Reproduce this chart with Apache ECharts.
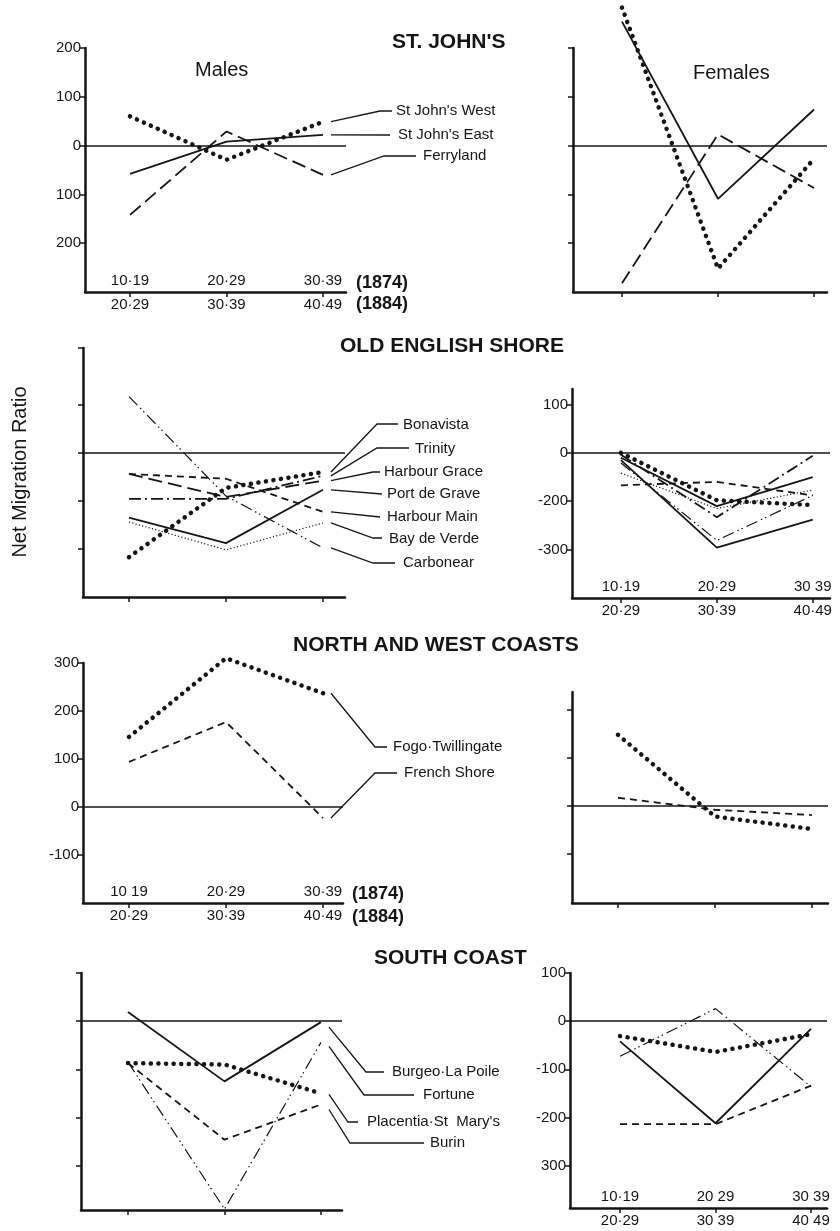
<!DOCTYPE html>
<html><head><meta charset="utf-8">
<script src="https://cdn.jsdelivr.net/npm/echarts@6/dist/echarts.min.js"></script>
<style>html,body{margin:0;padding:0;background:#fff}#c{width:840px;height:1231px}</style>
</head><body><div id="c"></div>
<script>
// ---------------- DATA ----------------
const ageTop1 = ['10·19', '20·29', '30·39'];
const ageBottom1 = ['20·29', '30·39', '40·49'];
const ageTop4 = ['10·19', '20·29', '30 39'];
const ageBottom4 = ['20·29', '30·39', '40·49'];
const ageTop5 = ['10 19', '20·29', '30·39'];
const ageBottom5 = ['20·29', '30·39', '40·49'];
const ageTop8 = ['10·19', '20 29', '30 39'];
const ageBottom8 = ['20·29', '30 39', '40 49'];

// y tick values / labels (as printed)
const ticksStJ = [200, 100, 0, -100, -200];
const tickLabelsStJ = ['200', '100', '0', '100', '200'];
const ticksOESMale = [218, 100, 0, -100, -200];
const ticksOESFemale = [100, 0, -100, -200];
const tickLabelsOESFemale = ['100', '0', '-200', '-300'];
const ticksNW = [300, 200, 100, 0, -100];
const tickLabelsNW = ['300', '200', '100', '0', '-100'];
const ticksNWFemale = [200, 100, 0, -100];
const ticksSC = [100, 0, -100, -200, -300];
const tickLabelsSC = ['100', '0', '-100', '-200', '300'];

// St John's
const stjNames = ["St John's West", "St John's East", 'Ferryland'];
const stjMaleWest = [60, -29, 49];
const stjMaleEast = [-58, 8, 22];
const stjMaleFerryland = [-142, 29, -60];
const stjFemaleWest = [283, -252, -27];
const stjFemaleEast = [254, -109, 74];
const stjFemaleFerryland = [-282, 23, -87];

// Old English Shore
const oesNames = ['Bonavista', 'Trinity', 'Harbour Grace', 'Port de Grave', 'Harbour Main', 'Bay de Verde', 'Carbonear'];
const oesMaleBonavista = [-217, -73, -40];
const oesMaleTrinity = [-96, -96, -48];
const oesMaleHarbourGrace = [-44, -92, -58];
const oesMalePortDeGrave = [-135, -188, -77];
const oesMaleHarbourMain = [-44, -54, -123];
const oesMaleBayDeVerde = [-144, -202, -146];
const oesMaleCarbonear = [117, -90, -198];
const oesFemaleBonavista = [0, -98, -108];
const oesFemaleTrinity = [-4, -133, -6];
const oesFemaleHarbourGrace = [-10, -110, -50];
const oesFemalePortDeGrave = [-15, -196, -138];
const oesFemaleHarbourMain = [-67, -60, -88];
const oesFemaleBayDeVerde = [-42, -115, -77];
const oesFemaleCarbonear = [-21, -181, -88];

// North and West Coasts
const nwNames = ['Fogo·Twillingate', 'French Shore'];
const nwMaleFogo = [146, 310, 237];
const nwMaleFrench = [94, 177, -23];
const nwFemaleFogo = [148, -22, -48];
const nwFemaleFrench = [17, -8, -19];

// South Coast
const scNames = ['Burgeo·La Poile', 'Fortune', "Placentia·St  Mary's", 'Burin'];
const scMaleBurgeo = [19, -125, -2];
const scMaleFortune = [-85, -390, -44];
const scMalePlacentia = [-87, -90, -150];
const scMaleBurin = [-87, -246, -173];
const scFemaleBurgeo = [-42, -212, -16];
const scFemaleFortune = [-73, 26, -136];
const scFemalePlacentia = [-31, -64, -27];
const scFemaleBurin = [-214, -214, -134];

// ---------------- STYLES / LAYOUT ----------------
const INK = '#151515';
const FONT = 'Liberation Sans, Arial, sans-serif';
const STY = {
  heavyDot: { width: 4.5, type: [0.1, 7.5], cap: 'round' },
  fineDot: { width: 1.2, type: [1.2, 2.2] },
  solid: { width: 1.8, type: 'solid' },
  dashed: { width: 1.8, type: [7, 5] },
  longDash: { width: 1.8, type: [14, 6] },
  dashDot: { width: 1.8, type: [12, 4, 2, 4] },
  dashDotDot: { width: 1.2, type: [12, 4, 1.5, 3, 1.5, 4] }
};

const panels = [
  { grid: { left: 85, top: 48, width: 261, height: 244 }, x: [-0.466, 2.238], y: [-300, 200],
    yTicks: ticksStJ, yLabels: tickLabelsStJ, xTop: ageTop1, xBottom: ageBottom1,
    series: [[stjNames[0], stjMaleWest, 'heavyDot'], [stjNames[1], stjMaleEast, 'solid'], [stjNames[2], stjMaleFerryland, 'longDash']],
    leaders: [
      { pts: [[380, 111], [392, 111]], tx: 396, ty: 111 },
      { pts: [[390, 135]], tx: 398, ty: 135 },
      { pts: [[384, 156], [416, 156]], tx: 423, ty: 156 }
    ] },
  { grid: { left: 573, top: 48, width: 254, height: 244 }, x: [-0.51, 2.135], y: [-300, 200],
    yTicks: ticksStJ, yLabels: null,
    series: [[stjNames[0], stjFemaleWest, 'heavyDot'], [stjNames[1], stjFemaleEast, 'solid'], [stjNames[2], stjFemaleFerryland, 'longDash']] },
  { grid: { left: 83, top: 348, width: 262, height: 249 }, x: [-0.474, 2.227], y: [-300, 218],
    yTicks: ticksOESMale, yLabels: null,
    series: [[oesNames[0], oesMaleBonavista, 'heavyDot'], [oesNames[1], oesMaleTrinity, 'dashDot'], [oesNames[2], oesMaleHarbourGrace, 'longDash'],
             [oesNames[3], oesMalePortDeGrave, 'solid'], [oesNames[4], oesMaleHarbourMain, 'dashed'], [oesNames[5], oesMaleBayDeVerde, 'fineDot'],
             [oesNames[6], oesMaleCarbonear, 'dashDotDot']],
    leaders: [
      { pts: [[377, 424], [398, 424]], tx: 403, ty: 425 },
      { pts: [[377, 448], [409, 448]], tx: 415, ty: 449 },
      { pts: [[373, 472], [380, 472]], tx: 384, ty: 472 },
      { pts: [[382, 494]], tx: 387, ty: 494 },
      { pts: [[380, 517]], tx: 387, ty: 517 },
      { pts: [[373, 538], [382, 538]], tx: 389, ty: 539 },
      { pts: [[373, 563], [395, 563]], tx: 403, ty: 563 }
    ] },
  { grid: { left: 572, top: 389, width: 258, height: 209 }, x: [-0.51, 2.18], y: [-300, 132],
    yTicks: ticksOESFemale, yLabels: tickLabelsOESFemale, xTop: ageTop4, xBottom: ageBottom4,
    series: [[oesNames[0], oesFemaleBonavista, 'heavyDot'], [oesNames[1], oesFemaleTrinity, 'dashDot'], [oesNames[2], oesFemaleHarbourGrace, 'solid'],
             [oesNames[3], oesFemalePortDeGrave, 'solid'], [oesNames[4], oesFemaleHarbourMain, 'dashed'], [oesNames[5], oesFemaleBayDeVerde, 'fineDot'],
             [oesNames[6], oesFemaleCarbonear, 'dashDotDot']] },
  { grid: { left: 83, top: 663, width: 260, height: 240 }, x: [-0.474, 2.206], y: [-200, 300],
    yTicks: ticksNW, yLabels: tickLabelsNW, xTop: ageTop5, xBottom: ageBottom5,
    series: [[nwNames[0], nwMaleFogo, 'heavyDot'], [nwNames[1], nwMaleFrench, 'dashed']],
    leaders: [
      { pts: [[375, 747], [387, 747]], tx: 393, ty: 747 },
      { pts: [[375, 773], [397, 773]], tx: 404, ty: 773 }
    ] },
  { grid: { left: 572, top: 692, width: 256, height: 211 }, x: [-0.474, 2.165], y: [-202, 237],
    yTicks: ticksNWFemale, yLabels: null,
    series: [[nwNames[0], nwFemaleFogo, 'heavyDot'], [nwNames[1], nwFemaleFrench, 'dashed']] },
  { grid: { left: 81, top: 973, width: 261, height: 237 }, x: [-0.487, 2.218], y: [-392, 100],
    yTicks: ticksSC, yLabels: null,
    series: [[scNames[0], scMaleBurgeo, 'solid'], [scNames[1], scMaleFortune, 'dashDotDot'], [scNames[2], scMalePlacentia, 'heavyDot'], [scNames[3], scMaleBurin, 'dashed']],
    leaders: [
      { pts: [[366, 1072], [384, 1072]], tx: 392, ty: 1072, dy: 5 },
      { pts: [[364, 1095], [414, 1095]], tx: 423, ty: 1095, dy: 4 },
      { pts: [[348, 1122], [358, 1122]], tx: 367, ty: 1122, dy: 1 },
      { pts: [[350, 1143], [424, 1143]], tx: 430, ty: 1143, dy: 5 }
    ] },
  { grid: { left: 570, top: 973, width: 257, height: 235 }, x: [-0.524, 2.168], y: [-388, 100],
    yTicks: ticksSC, yLabels: tickLabelsSC, xTop: ageTop8, xBottom: ageBottom8,
    series: [[scNames[0], scFemaleBurgeo, 'solid'], [scNames[1], scFemaleFortune, 'dashDotDot'], [scNames[2], scFemalePlacentia, 'heavyDot'], [scNames[3], scFemaleBurin, 'dashed']] }
];

// ---------------- BUILD OPTION ----------------
const grids = [], xAxes = [], yAxes = [], series = [];
const seriesMeta = [];
const idx3 = [0, 1, 2];
panels.forEach((p, gi) => {
  grids.push(Object.assign({ containLabel: false }, p.grid));
  const mainX = xAxes.length;
  xAxes.push({
    type: 'value', gridIndex: gi, position: 'bottom', min: p.x[0], max: p.x[1], splitLine: { show: false },
    axisLine: { onZero: false, lineStyle: { color: INK, width: 2.5 } },
    axisTick: { show: true, customValues: idx3, length: 5, lineStyle: { color: INK, width: 1.5 } },
    axisLabel: p.xBottom ? { show: true, customValues: idx3, formatter: v => p.xBottom[Math.round(v)], color: INK, fontSize: 15, fontFamily: FONT, margin: 5 } : { show: false }
  });
  if (p.xTop) {
    xAxes.push({
      type: 'value', gridIndex: gi, position: 'bottom', offset: 0, min: p.x[0], max: p.x[1], splitLine: { show: false },
      axisLine: { show: false, onZero: false }, axisTick: { show: false },
      axisLabel: { show: true, inside: true, customValues: idx3, formatter: v => p.xTop[Math.round(v)], color: INK, fontSize: 15, fontFamily: FONT, margin: 4 }
    });
  }
  yAxes.push({
    type: 'value', gridIndex: gi, position: 'left', min: p.y[0], max: p.y[1], splitLine: { show: false },
    axisLine: { onZero: false, lineStyle: { color: INK, width: 2.5 } },
    axisTick: { show: true, customValues: p.yTicks, length: 5, lineStyle: { color: INK, width: 1.5 } },
    axisLabel: p.yLabels ? { show: true, customValues: p.yTicks, formatter: v => p.yLabels[p.yTicks.indexOf(v)], color: INK, fontSize: 15, fontFamily: FONT, margin: 4 } : { show: false }
  });
  p.series.forEach((s, si) => {
    const [name, vals, sty] = s;
    const ser = {
      type: 'line', name: name, xAxisIndex: mainX, yAxisIndex: gi, clip: false,
      symbol: 'none', silent: true, animation: false,
      lineStyle: Object.assign({ color: INK }, STY[sty]),
      data: vals.map((v, i) => [i, v])
    };
    if (si === 0) {
      ser.markLine = { silent: true, symbol: 'none', animation: false, label: { show: false },
        lineStyle: { color: INK, width: 1.6, type: 'solid' }, data: [{ yAxis: 0 }] };
    }
    seriesMeta.push({ panel: gi, si: si, idx: series.length });
    series.push(ser);
  });
});

const textEl = (text, x, y, font, extra) => Object.assign({
  type: 'text', x: x, y: y, silent: true,
  style: { text: text, font: font, fill: INK, textAlign: 'left', textVerticalAlign: 'middle', align: 'left', verticalAlign: 'middle' }
}, extra || {});

const graphics = [
  textEl("ST. JOHN'S", 392, 42, 'bold 21px ' + FONT),
  textEl('OLD ENGLISH SHORE', 340, 346, 'bold 21px ' + FONT),
  textEl('NORTH AND WEST COASTS', 293, 645, 'bold 21px ' + FONT),
  textEl('SOUTH COAST', 374, 958, 'bold 21px ' + FONT),
  textEl('Males', 195, 70, '20px ' + FONT),
  textEl('Females', 693, 73, '20px ' + FONT),
  textEl('(1874)', 356, 283, 'bold 18px ' + FONT),
  textEl('(1884)', 356, 304, 'bold 18px ' + FONT),
  textEl('(1874)', 352, 894, 'bold 18px ' + FONT),
  textEl('(1884)', 352, 917, 'bold 18px ' + FONT),
  { type: 'text', x: 20, y: 472, rotation: Math.PI / 2, silent: true,
    style: { text: 'Net Migration Ratio', font: '20px ' + FONT, fill: INK, textAlign: 'center', textVerticalAlign: 'middle', align: 'center', verticalAlign: 'middle' } }
];

const chart = echarts.init(document.getElementById('c'), null, { renderer: 'canvas' });
chart.setOption({ animation: false, backgroundColor: '#fff', grid: grids, xAxis: xAxes, yAxis: yAxes, series: series, graphic: graphics });

// leader lines from each labelled series' last point to its name
seriesMeta.forEach(m => {
  const p = panels[m.panel];
  if (!p.leaders) return;
  const L = p.leaders[m.si];
  const s = p.series[m.si];
  const end = chart.convertToPixel({ seriesIndex: m.idx }, [2, s[1][2]]);
  const start = [end[0] + 8, end[1] + (L.dy || 0)];
  graphics.push({ type: 'polyline', silent: true, shape: { points: [start].concat(L.pts) },
    style: { stroke: INK, lineWidth: 1.3, fill: null } });
  graphics.push(textEl(s[0], L.tx, L.ty, '15px ' + FONT));
});
chart.setOption({ graphic: graphics });
</script>
</body></html>
